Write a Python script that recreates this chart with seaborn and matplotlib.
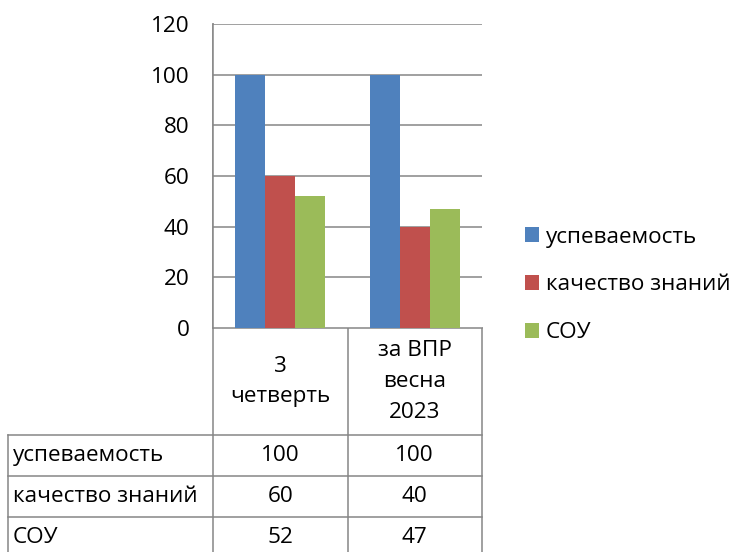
import numpy as np
import pandas as pd
import seaborn as sns
import matplotlib.pyplot as plt
from matplotlib.patches import Patch

# data
periods = ["3\nчетверть", "за ВПР\nвесна\n2023"]
metrics = ["успеваемость", "качество знаний", "СОУ"]
uspev = [100, 100]
kachestvo = [60, 40]
sou = [52, 47]
colors = ["#4F81BD", "#C0504D", "#9BBB59"]

plt.rcParams['font.family'] = ['Open Sans', 'DejaVu Sans']
fs = 16.2
grid_c = "#868686"

df = pd.DataFrame({
    "period": periods * 3,
    "metric": [m for m in metrics for _ in periods],
    "value": uspev + kachestvo + sou,
})

W, H = 736, 552
fig = plt.figure(figsize=(W / 100, H / 100), dpi=100)
# plot area in pixels
x0, x1, ytop, ybot = 213, 482, 24, 328
ax = fig.add_axes([x0 / W, 1 - ybot / H, (x1 - x0) / W, (ybot - ytop) / H])

sns.barplot(data=df, x="period", y="value", hue="metric", palette=colors,
            saturation=1, width=0.67, linewidth=0, ax=ax, legend=False)
ax.set_ylim(0, 120)
ax.set_xlim(-0.5, 1.5)
ax.set_yticks(range(0, 121, 20))
ax.yaxis.grid(True, color=grid_c, linewidth=1.1)
ax.set_axisbelow(True)
ax.tick_params(axis='y', length=0, pad=17, labelsize=fs)
ax.tick_params(axis='x', length=0, labelbottom=False)
ax.set_xlabel("")
ax.set_ylabel("")
for s in ["top", "right", "bottom"]:
    ax.spines[s].set_visible(False)
ax.spines["left"].set_color(grid_c)
ax.spines["left"].set_linewidth(1.1)

# data table below the plot
tab = fig.add_axes([0, 0, 1, 1], zorder=-1)
tab.set_xlim(0, W)
tab.set_ylim(H, 0)
tab.axis("off")

def to_px(xd):
    return ax.transData.transform((xd, 0))[0]

col_edges = [to_px(-0.5), to_px(0.5), to_px(1.5)]
col_centers = [to_px(i) for i in range(len(periods))]
xleft = 8
row_edges = [435, 476, 517, 558]
lw = 1.1

tab.plot([x0, x0], [ytop, H], color=grid_c, lw=lw)
for xe in col_edges[1:]:
    tab.plot([xe, xe], [ybot, H], color=grid_c, lw=lw)
tab.plot([xleft, xleft], [row_edges[0], H], color=grid_c, lw=lw)
tab.plot([x0, x1], [ybot, ybot], color=grid_c, lw=lw)
for ye in row_edges[:3]:
    tab.plot([xleft, x1], [ye, ye], color=grid_c, lw=lw)

for xc, p in zip(col_centers, periods):
    tab.text(xc, (ybot + row_edges[0]) / 2, p, ha="center", va="center",
             fontsize=fs, linespacing=1.6)

for i, (m, vals) in enumerate(zip(metrics, [uspev, kachestvo, sou])):
    yc = (row_edges[i] + row_edges[i + 1]) / 2
    tab.text(xleft + 5, yc, m, ha="left", va="center", fontsize=fs)
    for xc, v in zip(col_centers, vals):
        tab.text(xc, yc, str(v), ha="center", va="center", fontsize=fs)

handles = [Patch(facecolor=c, edgecolor="none", label=m) for c, m in zip(colors, metrics)]
fig.legend(handles=handles, loc="center left", bbox_to_anchor=(516 / W, 1 - 285 / H),
           frameon=False, fontsize=fs, handlelength=0.62, handleheight=0.62,
           handletextpad=0.3, labelspacing=1.2, borderaxespad=0)

fig.savefig("out.png", dpi=100)
